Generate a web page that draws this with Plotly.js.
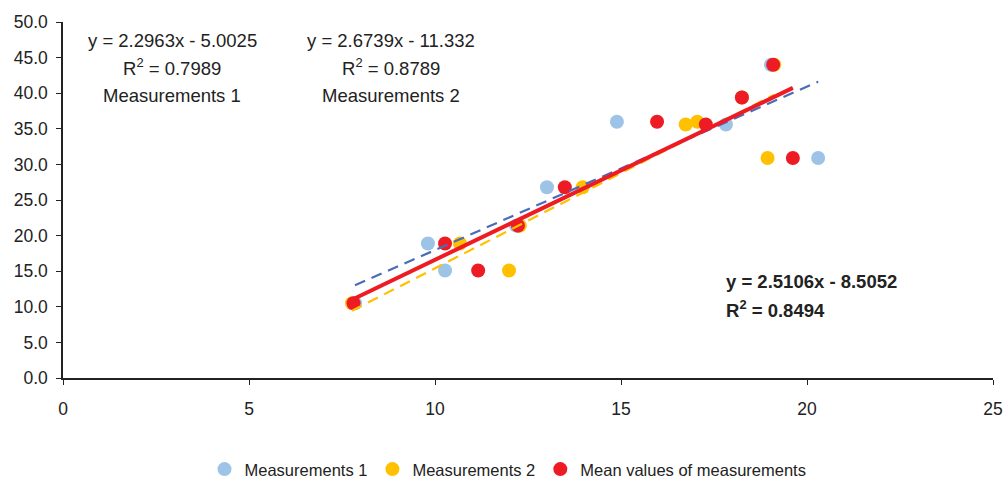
<!DOCTYPE html>
<html>
<head>
<meta charset="utf-8">
<script src="https://cdn.plot.ly/plotly-3.0.1.min.js"></script>
<style>html,body{margin:0;padding:0;background:#fff}#chart{width:1005px;height:481px}</style>
</head>
<body>
<div id="chart"></div>
<script>
// Measured values (y common to all series)
const yValues = [10.5, 18.9, 15.1, 21.4, 26.8, 36.0, 35.6, 39.4, 44.0, 30.9];
const xMeas1  = [7.85, 9.81, 10.27, 12.18, 13.01, 14.89, 17.82, 18.25, 19.03, 20.30];
const xMeas2  = [7.77, 10.67, 11.99, 12.28, 13.97, 17.05, 16.74, 18.25, 19.12, 18.94];
const xMean   = [7.81, 10.27, 11.16, 12.23, 13.49, 15.97, 17.28, 18.25, 19.09, 19.62];

const seriesNames = ["Measurements 1", "Measurements 2", "Mean values of measurements"];
const trendSlopes = [2.2963, 2.6739, 2.5106];
const trendIntercepts = [-5.0025, -11.332, -8.5052];
const trendR2 = [0.7989, 0.8789, 0.8494];

const xTicks = [0, 5, 10, 15, 20, 25];
const yTicks = [0, 5, 10, 15, 20, 25, 30, 35, 40, 45, 50];

const colors = ["#9DC3E6", "#FFC000", "#ED1C24"];
const lineColors = ["#4A6CB8", "#FFC000", "#ED1C24"];
const font = "Liberation Sans, Arial, sans-serif";

const xs = [xMeas1, xMeas2, xMean];
const markerTraces = xs.map((x, i) => ({
  type: "scatter", mode: "markers", x: x, y: yValues, name: seriesNames[i],
  marker: {color: colors[i], size: 14}, hoverinfo: "x+y"
}));
const trendTraces = xs.map((x, i) => {
  const x0 = Math.min(...x), x1 = Math.max(...x);
  return {
    type: "scatter", mode: "lines", showlegend: false, hoverinfo: "skip",
    x: [x0, x1], y: [trendSlopes[i] * x0 + trendIntercepts[i], trendSlopes[i] * x1 + trendIntercepts[i]],
    line: {color: lineColors[i], width: i === 2 ? 4 : 2.2, dash: i === 2 ? "solid" : "11px,7px"}
  };
});

function eq(i) {
  const b = trendIntercepts[i];
  return "y = " + trendSlopes[i] + "x " + (b < 0 ? "- " : "+ ") + Math.abs(b);
}

const T = 22, B = 378.5, L = 62.5, R = 993.5;
const px = v => (v - L) / (R - L);
const py = v => (B - v) / (B - T);

const annFont = {family: font, size: 18.5, color: "#222"};
const annotations = [];
[0, 1].forEach(i => {
  const cx = i === 0 ? 172 : 391;
  annotations.push({xref: "paper", yref: "paper", x: px(cx), y: py(41), text: eq(i), showarrow: false, font: annFont, xanchor: "center", yanchor: "middle"});
  annotations.push({xref: "paper", yref: "paper", x: px(cx), y: py(67), text: "R<sup>2</sup> = " + trendR2[i], showarrow: false, font: annFont, xanchor: "center", yanchor: "middle"});
  annotations.push({xref: "paper", yref: "paper", x: px(cx), y: py(96), text: seriesNames[i], showarrow: false, font: annFont, xanchor: "center", yanchor: "middle"});
});
const boldFont = {family: font, size: 18.5, color: "#222", weight: "bold"};
annotations.push({xref: "paper", yref: "paper", x: px(724), y: py(282), text: "<b>" + eq(2) + "</b>", showarrow: false, font: boldFont, xanchor: "left", yanchor: "middle"});
annotations.push({xref: "paper", yref: "paper", x: px(724), y: py(309), text: "<b>R<sup>2</sup> = " + trendR2[2] + "</b>", showarrow: false, font: boldFont, xanchor: "left", yanchor: "middle"});

const tickFont = {family: font, size: 17.5, color: "#222"};
const layout = {
  width: 1005, height: 481,
  margin: {l: L, r: 1005 - R, t: T, b: 481 - B, autoexpand: false},
  paper_bgcolor: "#fff", plot_bgcolor: "#fff",
  font: {family: font, size: 16, color: "#222"},
  showlegend: true,
  legend: {orientation: "h", x: px(508), xanchor: "center", y: py(470), yanchor: "middle", font: {family: font, size: 16.5, color: "#222"}, itemwidth: 30, tracegroupgap: 0},
  xaxis: {range: [0, 25], tickvals: xTicks, ticktext: xTicks.map(String), showgrid: false, zeroline: false,
          showline: true, linecolor: "#222", linewidth: 1.5, ticks: "outside", ticklen: 5, tickcolor: "#222",
          ticklabelstandoff: 9, tickfont: tickFont, automargin: false},
  yaxis: {range: [0, 50], tickvals: yTicks, ticktext: yTicks.map(v => v.toFixed(1)), showgrid: false, zeroline: false,
          showline: true, linecolor: "#222", linewidth: 1.5, ticks: "outside", ticklen: 5, tickcolor: "#222",
          ticklabelstandoff: 5, tickfont: tickFont, automargin: false},
  annotations: annotations
};

Plotly.newPlot("chart", [...markerTraces, ...trendTraces], layout, {displayModeBar: false, responsive: false});
</script>
</body>
</html>
